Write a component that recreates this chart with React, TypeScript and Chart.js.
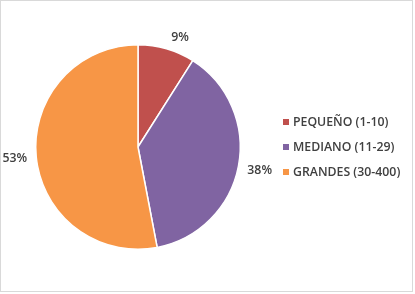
import React, { useEffect, useRef } from "react";
import { Chart, registerables } from "chart.js";

Chart.register(...registerables);

const categories = ["PEQUEÑO (1-10)", "MEDIANO (11-29)", "GRANDES (30-400)"];
const values = [9, 38, 53];
const labelsText = ["9%", "38%", "53%"];
const colors = ["#C0504D", "#8064A2", "#F79646"];

const FONT = "600 12.3px 'Open Sans', sans-serif";
const TEXT_COLOR = "#404040";

const clamp = (v: number, a: number, b: number) => Math.max(a, Math.min(b, v));

const decorPlugin = {
  id: "decor",
  beforeDraw(chart: any) {
    const ctx = chart.ctx;
    ctx.save();
    ctx.fillStyle = "#FFFFFF";
    ctx.fillRect(0, 0, chart.width, chart.height);
    ctx.strokeStyle = "#D9D9D9";
    ctx.lineWidth = 1;
    ctx.strokeRect(0.5, 0.5, chart.width - 3, chart.height - 3);
    ctx.restore();
  },
  afterDraw(chart: any) {
    const ctx = chart.ctx;
    const meta = chart.getDatasetMeta(0);
    ctx.save();
    ctx.font = FONT;
    ctx.fillStyle = TEXT_COLOR;
    ctx.textBaseline = "middle";
    ctx.textAlign = "center";
    meta.data.forEach((arc: any, i: number) => {
      const { x, y, startAngle, endAngle, outerRadius } = arc.getProps(
        ["x", "y", "startAngle", "endAngle", "outerRadius"],
        true
      );
      const mid = (startAngle + endAngle) / 2;
      const r = outerRadius + 6;
      const px = x + Math.cos(mid) * r;
      const py = y + Math.sin(mid) * r;
      const txt = labelsText[i];
      const w = ctx.measureText(txt).width;
      const h = 12;
      const dx = clamp(Math.cos(mid) * 4, -1, 1);
      const dy = clamp(Math.sin(mid) * 3, -1, 1);
      ctx.fillText(txt, px + dx * (w / 2 + 3), py + (dy * h) / 2);
    });
    // legend
    ctx.textAlign = "left";
    const lx = 283;
    const rows = [122, 147, 172];
    categories.forEach((c, i) => {
      ctx.fillStyle = colors[i];
      ctx.fillRect(lx, rows[i] - 3, 6, 6);
      ctx.fillStyle = TEXT_COLOR;
      ctx.fillText(c, lx + 10, rows[i] + 0.5);
    });
    ctx.restore();
  },
};

export default function App() {
  const ref = useRef<HTMLCanvasElement | null>(null);
  useEffect(() => {
    document.body.style.margin = "0";
    const chart = new Chart(ref.current as HTMLCanvasElement, {
      type: "pie",
      data: {
        labels: categories,
        datasets: [
          {
            data: values,
            backgroundColor: colors,
            borderColor: "#FFFFFF",
            borderWidth: 1.5,
          },
        ],
      },
      options: {
        animation: false,
        responsive: false,
        layout: { padding: { left: 35, right: 174, top: 44, bottom: 44 } },
        plugins: {
          legend: { display: false },
          tooltip: { enabled: false },
        },
      },
      plugins: [decorPlugin],
    });
    return () => chart.destroy();
  }, []);
  return (
    <div style={{ position: "absolute", left: 0, top: 0, width: 415, height: 294 }}>
      <canvas ref={ref} width={415} height={294} style={{ width: 415, height: 294 }} />
    </div>
  );
}
